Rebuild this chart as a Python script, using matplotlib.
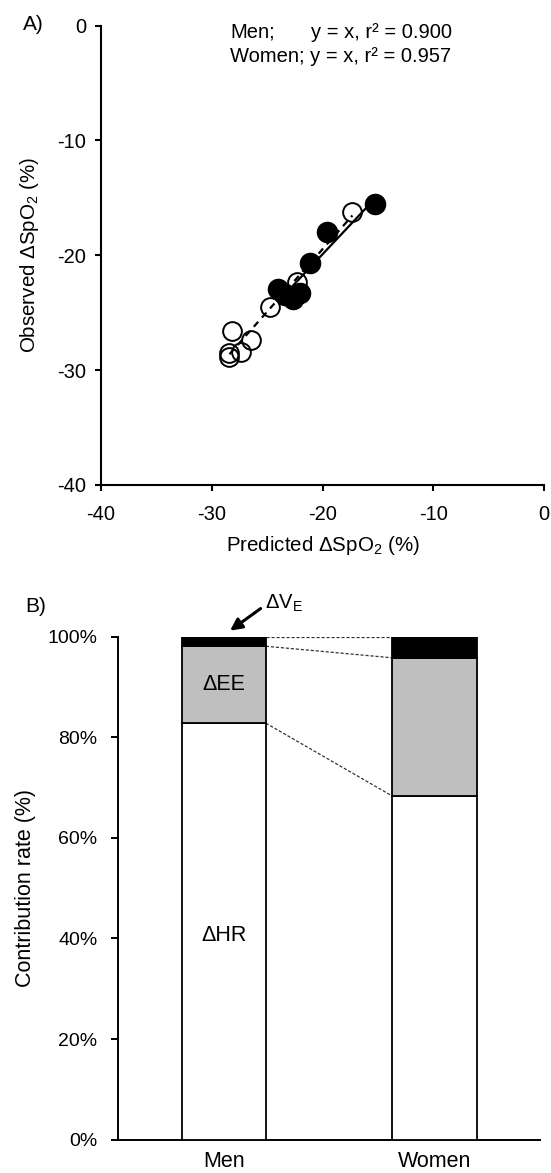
import numpy as np
import matplotlib
matplotlib.use("Agg")
import matplotlib.pyplot as plt

plt.rcParams['font.family'] = ['Liberation Sans', 'DejaVu Sans']
plt.rcParams['mathtext.fontset'] = 'custom'
plt.rcParams['mathtext.rm'] = 'Liberation Sans'
plt.rcParams['axes.unicode_minus'] = False

# panel A: predicted vs observed dSpO2
men_pred = [-15.3, -19.6, -21.1, -24.0, -22.7, -22.0, -23.4]
men_obs = [-15.5, -18.0, -20.7, -22.9, -23.8, -23.3, -23.5]
women_pred = [-17.3, -22.3, -24.7, -28.2, -26.5, -27.4, -28.4, -28.4]
women_obs = [-16.2, -22.3, -24.5, -26.6, -27.4, -28.4, -28.5, -28.9]

# panel B: contribution rates
groups = ['Men', 'Women']
hr = [82.8, 68.3]
ee = [15.3, 27.5]
ve = [1.9, 4.2]

W, H = 551, 1173
fig = plt.figure(figsize=(W/100, H/100), dpi=100)

# ---- A ----
ax = fig.add_axes([101/W, 1-485/H, (544-101)/W, (485-25.5)/H])
ax.plot(men_pred, men_obs, 'o', ms=14.5, color='k', zorder=3)
ax.plot(women_pred, women_obs, 'o', ms=13.5, mfc='none', mec='k', mew=1.4, zorder=4)

# regression lines over each group's range
for xs, ys, ls in [(men_pred, men_obs, '-'), (women_pred, women_obs, (0, (3, 2.5)))]:
    xs = np.array(xs); ys = np.array(ys)
    k, b = np.polyfit(xs, ys, 1)
    xx = np.array([xs.min(), xs.max()])
    ax.plot(xx, k*xx+b, color='k', lw=1.6, ls=ls, zorder=2)

ax.set_xlim(-40, 0)
ax.set_ylim(-40, 0)
ax.set_xticks([-40, -30, -20, -10, 0])
ax.set_yticks([-40, -30, -20, -10, 0])
for s in ['top', 'right']:
    ax.spines[s].set_visible(False)
for s in ['left', 'bottom']:
    ax.spines[s].set_linewidth(1.5)
ax.tick_params(labelsize=14.5, length=4.5, width=1.5, color='k')
ax.tick_params(axis='x', pad=10)
ax.tick_params(axis='y', pad=6)
ax.set_xlabel(r'Predicted ΔSpO$\mathregular{_2}$ (%)', fontsize=14.8, labelpad=7)
ax.set_ylabel(r'Observed ΔSpO$\mathregular{_2}$ (%)', fontsize=14.8, labelpad=12)

fig.text(23/W, 1-30/H, 'A)', fontsize=15, va='baseline')
fig.text(230/W, 1-38/H, 'Men;', fontsize=14.5, va='baseline')
fig.text(311/W, 1-38/H, 'y = x, r² = 0.900', fontsize=14.5, va='baseline')
fig.text(230/W, 1-62/H, 'Women; y = x, r² = 0.957', fontsize=14.5, va='baseline')

# ---- B ----
bx = fig.add_axes([118.3/W, 1-1139.6/H, (540-118.3)/W, (1139.6-636.7)/H])
xpos = np.arange(len(groups))
bw = 0.4
hr = np.array(hr); ee = np.array(ee); ve = np.array(ve)
bx.bar(xpos, hr, bw, color='white', edgecolor='k', lw=1.3, zorder=3)
bx.bar(xpos, ee, bw, bottom=hr, color='#bfbfbf', edgecolor='k', lw=1.3, zorder=3)
bx.bar(xpos, ve, bw, bottom=hr+ee, color='black', edgecolor='k', lw=1.3, zorder=3)

# dashed connectors between bars
for lev in [hr, hr+ee, hr+ee+ve]:
    bx.plot([xpos[0]+bw/2, xpos[1]-bw/2], [lev[0], lev[1]], color='#333333',
            lw=0.9, ls=(0, (2.5, 1.5)), zorder=2)

bx.set_xlim(-0.5, 1.5)
bx.set_ylim(0, 100)
bx.set_yticks(range(0, 101, 20))
bx.set_yticklabels([f'{v}%' for v in range(0, 101, 20)])
bx.set_xticks(xpos)
bx.set_xticklabels(groups)
for s in ['top', 'right']:
    bx.spines[s].set_visible(False)
for s in ['left', 'bottom']:
    bx.spines[s].set_linewidth(1.4)
bx.tick_params(axis='y', labelsize=14, length=5, width=1.4, pad=10)
bx.tick_params(axis='x', labelsize=15.5, length=0, pad=8)
bx.set_ylabel('Contribution rate (%)', fontsize=15.5, labelpad=8)

bx.text(xpos[0], hr[0]+ee[0]/2, 'ΔEE', fontsize=15.5, ha='center', va='center', zorder=5)
bx.text(xpos[0], 40.5, 'ΔHR', fontsize=15.5, ha='center', va='center', zorder=5)
bx.annotate('', xy=(0.03, 101.2), xytext=(0.175, 105.6), annotation_clip=False,
            arrowprops=dict(arrowstyle='-|>,head_length=0.7,head_width=0.35',
                            lw=2.2, color='k', shrinkA=0, shrinkB=0))
fig.text(265/W, 1-608.3/H, r'ΔV$\mathregular{_E}$', fontsize=14.5, va='baseline')
fig.text(25/W, 1-611.7/H, 'B)', fontsize=15, va='baseline')

fig.savefig('out.png', dpi=100)
